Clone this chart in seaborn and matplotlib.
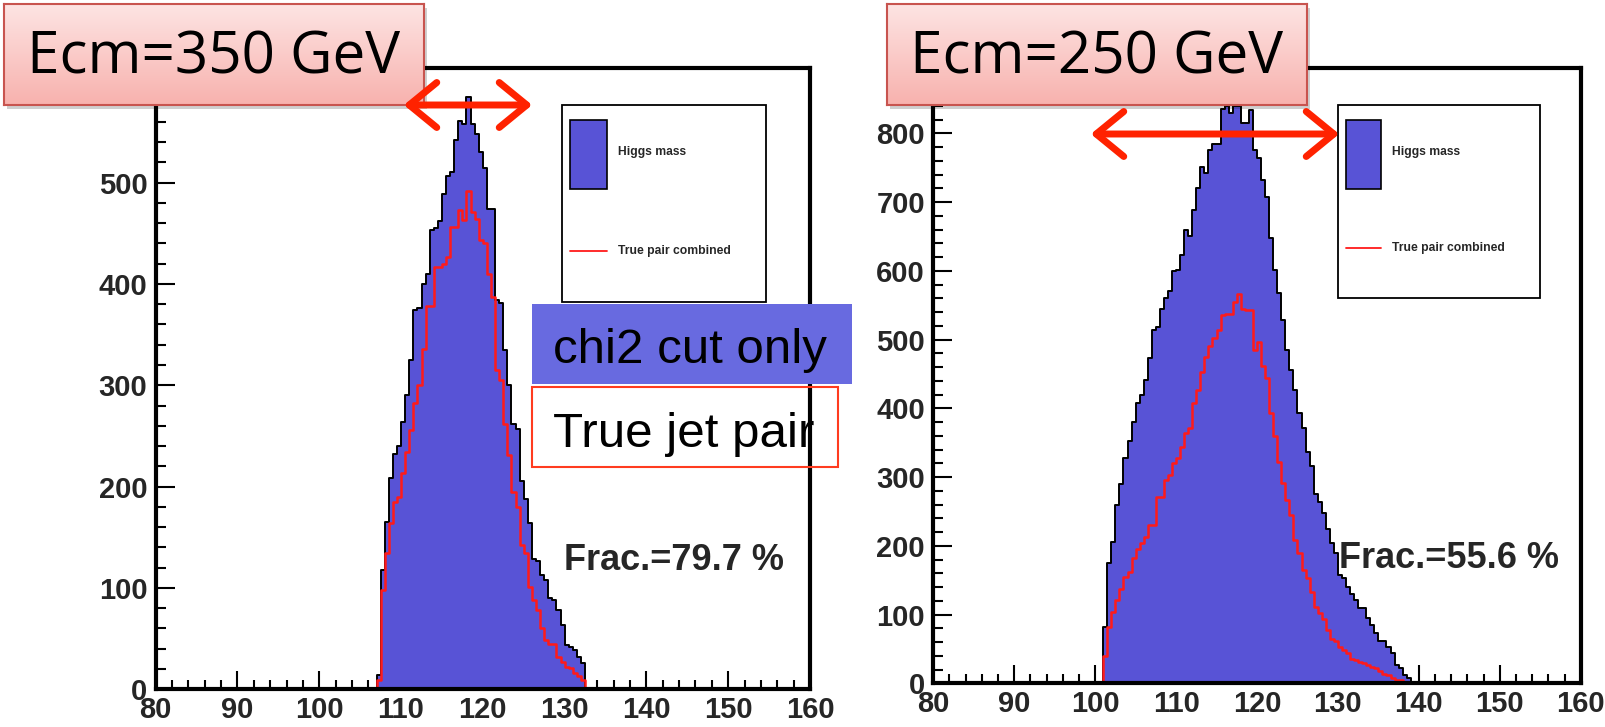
import numpy as np
import pandas as pd
import matplotlib
matplotlib.use("Agg")
import matplotlib.pyplot as plt
import seaborn as sns
from matplotlib import font_manager
from matplotlib.patches import Rectangle, FancyArrowPatch
from matplotlib.lines import Line2D
from matplotlib.colors import LinearSegmentedColormap
from matplotlib.transforms import ScaledTranslation

# ---------------- data ----------------
BIN_W = 0.5
X_LO, X_HI = 80, 160

# Ecm = 350 GeV
left_first_bin = 107.0
left_blue = [14, 118, 165, 208, 232, 240, 264, 290, 325, 374,
             376, 400, 410, 453, 455, 462, 489, 506, 510, 542,
             561, 558, 584, 558, 548, 530, 514, 474, 474, 384,
             381, 335, 300, 262, 257, 206, 188, 164, 129, 127,
             113, 108, 90, 88, 78, 63, 44, 42, 39, 32,
             26]
left_red = [9, 98, 134, 164, 185, 190, 213, 234, 256, 282,
            300, 336, 378, 378, 417, 417, 420, 427, 456, 456,
            473, 463, 492, 471, 464, 443, 440, 410, 387, 315,
            305, 262, 231, 195, 180, 142, 134, 101, 88, 78,
            60, 49, 45, 45, 32, 27, 22, 21, 16, 13,
            9]

# Ecm = 250 GeV
right_first_bin = 101.0
right_blue = [82, 175, 206, 259, 290, 327, 352, 380, 408, 420,
              441, 473, 514, 518, 545, 560, 570, 599, 601, 623,
              659, 651, 688, 720, 751, 742, 776, 785, 785, 836,
              839, 829, 839, 839, 815, 815, 834, 776, 764, 732,
              708, 647, 601, 567, 528, 485, 456, 427, 393, 371,
              337, 316, 276, 264, 247, 225, 204, 190, 158, 153,
              140, 130, 121, 109, 109, 95, 85, 73, 61, 61,
              53, 44, 27, 22, 12, 7]
right_red = [39, 82, 104, 121, 137, 155, 162, 182, 196, 204,
             213, 230, 230, 271, 271, 296, 303, 320, 327, 344,
             364, 371, 407, 427, 453, 475, 491, 502, 514, 536,
             537, 537, 555, 566, 545, 543, 543, 485, 497, 461,
             444, 393, 359, 322, 291, 267, 245, 208, 190, 165,
             153, 133, 111, 102, 93, 78, 65, 61, 53, 48,
             44, 36, 34, 31, 30, 27, 24, 22, 18, 14,
             12, 7, 5, 5, 2, 0]

x_ticks = [80, 90, 100, 110, 120, 130, 140, 150, 160]
left_yticks = [0, 100, 200, 300, 400, 500]
right_yticks = [0, 100, 200, 300, 400, 500, 600, 700, 800]
left_ymax = 613
right_ymax = 895

panel_titles = ["Ecm=350 GeV", "Ecm=250 GeV"]
frac_labels = ["Frac.=79.7 %", "Frac.=55.6 %"]
legend_labels = ["Higgs mass", "True pair combined"]
note_labels = ["chi2 cut only", "True jet pair"]

# ---------------- style ----------------
sns.set_theme(style="white")
plt.rcParams["font.family"] = ["Liberation Sans", "DejaVu Sans"]

installed = {f.name for f in font_manager.fontManager.ttflist}
if "Liberation Sans Narrow" in installed:
    TITLE_FAM, TITLE_SIZE = ["Liberation Sans Narrow", "DejaVu Sans"], 50
else:
    TITLE_FAM, TITLE_SIZE = ["Open Sans", "DejaVu Sans"], 42

BLUE = "#5853d6"
RED = "#ff1a1a"
W, H = 1606, 727
fig = plt.figure(figsize=(W / 100, H / 100), dpi=100)


def fx(px):
    return px / W


def fy(py):
    return 1 - py / H


def draw_panel(ax, first, blue, red, ymax, yticks):
    edges = [float(e) for e in np.arange(X_LO, X_HI + BIN_W / 2, BIN_W)]
    centers = first + BIN_W * (np.arange(len(blue)) + 0.5)
    df = pd.DataFrame({"mass": centers, "blue": blue, "red": red})
    sns.histplot(data=df, x="mass", weights="blue", bins=edges, element="step",
                 fill=True, color=BLUE, edgecolor="black", linewidth=1.4, alpha=1, ax=ax)
    sns.histplot(data=df, x="mass", weights="red", bins=edges, element="step",
                 fill=False, color=RED, linewidth=1.8, alpha=1, ax=ax)
    ax.set_xlim(X_LO, X_HI)
    ax.set_ylim(0, ymax)
    ax.set_xlabel("")
    ax.set_ylabel("")
    ax.set_xticks(x_ticks)
    ax.set_xticks(np.arange(X_LO, X_HI + 1, 2), minor=True)
    ax.set_yticks(yticks)
    ax.set_yticks(np.arange(0, ymax, 20), minor=True)
    ax.set_xticklabels([str(t) for t in x_ticks], fontsize=21, fontweight="bold")
    ylabels = ax.set_yticklabels([str(t) for t in yticks], fontsize=21, fontweight="bold")
    # ROOT-style: the "0" label sits a little higher, just above the x labels
    ylabels[0].set_transform(ylabels[0].get_transform()
                             + ScaledTranslation(0, 5 / 100, fig.dpi_scale_trans))
    ax.tick_params(axis="both", which="both", direction="in", color="black",
                   width=1.5, top=False, right=False, left=True, bottom=True)
    ax.tick_params(axis="x", which="major", length=13, pad=5)
    ax.tick_params(axis="x", which="minor", length=6.5)
    ax.tick_params(axis="y", which="major", length=14, pad=6)
    ax.tick_params(axis="y", which="minor", length=7)
    for s in ax.spines.values():
        s.set_visible(True)
        s.set_color("black")
        s.set_linewidth(3)
    ax.grid(False)


axL = fig.add_axes([fx(155.7), fy(689.3), fx(810 - 155.7), (689.3 - 68) / H])
axR = fig.add_axes([fx(933.3), fy(683.3), fx(1580.7 - 933.3), (683.3 - 68) / H])
draw_panel(axL, left_first_bin, left_blue, left_red, left_ymax, left_yticks)
draw_panel(axR, right_first_bin, right_blue, right_red, right_ymax, right_yticks)

# ---------------- legends (ROOT style boxes) ----------------
for (x0, y0, x1, y1), (bx0, by0, bx1, by1), ly in [
        ((562, 105, 766, 302), (570, 120, 607, 189), 251),
        ((1338, 105, 1540, 298), (1346, 120, 1381, 189), 248)]:
    fig.patches.append(Rectangle((fx(x0), fy(y1)), fx(x1 - x0), (y1 - y0) / H,
                                 transform=fig.transFigure, facecolor="white",
                                 edgecolor="black", linewidth=1.3, zorder=2))
    fig.patches.append(Rectangle((fx(bx0), fy(by1)), fx(bx1 - bx0), (by1 - by0) / H,
                                 transform=fig.transFigure, facecolor=BLUE,
                                 edgecolor="black", linewidth=1.2, zorder=3))
    fig.text(fx(bx1 + 11), fy((by0 + by1) / 2 - 2), legend_labels[0], fontsize=8.7,
             fontweight="bold", va="center", ha="left", zorder=4)
    fig.lines.append(Line2D([fx(bx0), fx(bx1)], [fy(ly), fy(ly)], color=RED,
                            linewidth=1.3, transform=fig.transFigure, zorder=3))
    fig.text(fx(bx1 + 11), fy(ly), legend_labels[1], fontsize=8.7,
             fontweight="bold", va="center", ha="left", zorder=4)

# Frac texts
fig.text(fx(564), fy(561), frac_labels[0], fontsize=26, fontweight="bold",
         va="center", ha="left", zorder=4)
fig.text(fx(1339), fy(558), frac_labels[1], fontsize=26, fontweight="bold",
         va="center", ha="left", zorder=4)

# ---------------- annotation boxes ----------------
grad = LinearSegmentedColormap.from_list("pink", ["#fde4e3", "#f8b2ae"])
for (x0, y0, x1, y1), title in [((4, 4, 424, 105), panel_titles[0]),
                                ((887, 4, 1307, 105), panel_titles[1])]:
    fig.patches.append(Rectangle((fx(x0 + 3), fy(y1 + 4)), fx(x1 - x0), (y1 - y0) / H,
                                 transform=fig.transFigure, facecolor="#00000030",
                                 edgecolor="none", zorder=4))
    bax = fig.add_axes([fx(x0), fy(y1), fx(x1 - x0), (y1 - y0) / H], zorder=5)
    bax.imshow(np.linspace(0, 1, 64)[:, None], aspect="auto", cmap=grad,
               extent=[0, 1, 0, 1])
    bax.set_xticks([])
    bax.set_yticks([])
    for s in bax.spines.values():
        s.set_visible(True)
        s.set_color("#c8544f")
        s.set_linewidth(1.5)
    bax.text(0.5, 0.46, title, transform=bax.transAxes, ha="center", va="center",
             fontsize=TITLE_SIZE, family=TITLE_FAM, color="black")

# "chi2 cut only": opaque blue box; "True jet pair": transparent red-edged box
nax1 = fig.add_axes([fx(532), fy(384), fx(852 - 532), (384 - 304) / H], zorder=5)
nax1.set_facecolor("#686ae0")
nax1.set_xticks([])
nax1.set_yticks([])
for s in nax1.spines.values():
    s.set_visible(False)
fig.text(fx(553), fy(363), note_labels[0], fontsize=35.5, ha="left", va="baseline",
         color="black", zorder=6)

fig.patches.append(Rectangle((fx(532), fy(467)), fx(838 - 532), (467 - 387) / H,
                             transform=fig.transFigure, facecolor="none",
                             edgecolor="#ff3b1f", linewidth=1.5, zorder=0.5))
fig.text(fx(553), fy(447), note_labels[1], fontsize=35.5, ha="left", va="baseline",
         color="black", zorder=0.6)

# ---------------- red double arrows ----------------
for (x0, x1, y) in [(401, 535, 105), (1088, 1342, 134)]:
    arr = FancyArrowPatch((fx(x0), fy(y)), (fx(x1), fy(y)), transform=fig.transFigure,
                          arrowstyle="<->,head_length=0.55,head_width=0.45",
                          mutation_scale=36, color="#ff2200", linewidth=5,
                          capstyle="round", joinstyle="round", zorder=6)
    fig.patches.append(arr)

fig.savefig("out.png", dpi=100)
